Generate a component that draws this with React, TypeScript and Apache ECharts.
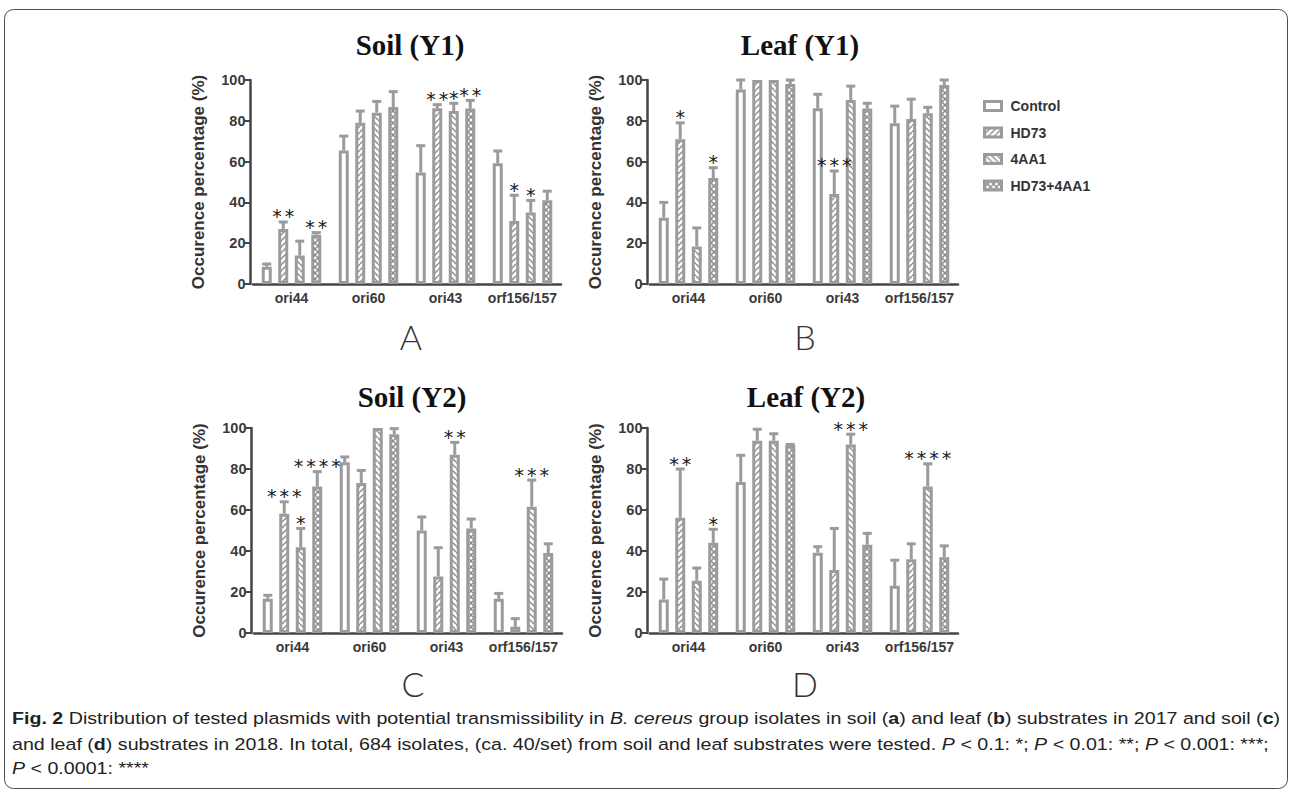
import React, { useEffect, useRef } from "react";
import * as echarts from "echarts";

// ---------- data ----------
const categories = ["ori44", "ori60", "ori43", "orf156/157"];
const seriesNames = ["Control", "HD73", "4AA1", "HD73+4AA1"];
const yTicks = [0, 20, 40, 60, 80, 100];

// rows: Control, HD73, 4AA1, HD73+4AA1 ; columns: categories
const soilY1Mean = [
  [8.5, 65.4, 54.7, 59.2],
  [27, 79, 86.1, 30.9],
  [14, 84, 84.8, 35],
  [24.2, 86.8, 86, 41],
];
const soilY1Sd = [
  [1.3, 7.1, 13.1, 6.0],
  [3.4, 5.8, 1.8, 12.6],
  [7, 5.5, 3.8, 6],
  [1, 7.5, 4, 4.5],
];
const soilY1Stars = [
  ["", "", "", ""],
  ["**", "", "**", "*"],
  ["", "", "*", "*"],
  ["**", "", "**", ""],
];

const leafY1Mean = [
  [32.5, 95.4, 86.1, 78.8],
  [71, 100, 44.1, 80.9],
  [18.4, 100, 90.2, 83.7],
  [52, 98, 86, 97.5],
];
const leafY1Sd = [
  [7.5, 4.6, 6.9, 8.4],
  [8, 0, 11.3, 9.7],
  [9.1, 0, 6.8, 2.9],
  [5, 2, 2.6, 2.5],
];
const leafY1Stars = [
  ["", "", "", ""],
  ["*", "", "***", ""],
  ["", "", "", ""],
  ["*", "", "", ""],
];

const soilY2Mean = [
  [16.7, 83.3, 50, 16.7],
  [58.2, 73.2, 27.6, 3],
  [41.8, 100, 87, 61.6],
  [71.5, 97, 51, 39],
];
const soilY2Sd = [
  [1.7, 2.6, 6.6, 2.6],
  [5.8, 6.1, 14, 4],
  [9.2, 0, 6, 13],
  [7.2, 2.7, 4.6, 4.5],
];
const soilY2Stars = [
  ["", "", "", ""],
  ["***", "", "", ""],
  ["*", "", "**", "***"],
  ["****", "", "", ""],
];

const leafY2Mean = [
  [16.4, 73.7, 39.2, 23],
  [56.2, 93.8, 30.7, 36],
  [25.5, 93.8, 92, 71.5],
  [44, 91.6, 43, 37],
];
const leafY2Sd = [
  [9.9, 13, 2.9, 12.5],
  [23.8, 5.6, 20.3, 7.5],
  [6.2, 3.4, 5, 11],
  [6.6, 0.4, 5.6, 5.5],
];
const leafY2Stars = [
  ["", "", "", ""],
  ["**", "", "", ""],
  ["", "", "***", "****"],
  ["*", "", "", ""],
];

const panelTitles = ["Soil (Y1)", "Leaf (Y1)", "Soil (Y2)", "Leaf (Y2)"];
const panelLetters = ["A", "B", "C", "D"];
const yAxisName = "Occurence percentage (%)";

const captionLines = [
  "{b|Fig. 2} Distribution of tested plasmids with potential transmissibility in {i|B. cereus} group isolates in soil ({b|a}) and leaf ({b|b}) substrates in 2017 and soil ({b|c})",
  "and leaf ({b|d}) substrates in 2018. In total, 684 isolates, (ca. 40/set) from soil and leaf substrates were tested. {i|P} < 0.1: *; {i|P} < 0.01: **; {i|P} < 0.001: ***;",
  "{i|P} < 0.0001: ****",
];

// ---------- layout / style ----------
const panelMeans = [soilY1Mean, leafY1Mean, soilY2Mean, leafY2Mean];
const panelSds = [soilY1Sd, leafY1Sd, soilY2Sd, leafY2Sd];
const panelStars = [soilY1Stars, leafY1Stars, soilY2Stars, leafY2Stars];

const grids = [
  { left: 253, top: 80, width: 308, height: 204 },
  { left: 650, top: 80, width: 308, height: 204 },
  { left: 254, top: 428, width: 308, height: 205 },
  { left: 650, top: 428, width: 308, height: 205 },
];
const titlePos = [
  [410, 45],
  [800, 45],
  [412, 397],
  [806, 397],
];
const letterPos = [
  [411, 336],
  [805, 336],
  [413, 683],
  [805, 683],
];

const GRAY = "#9b9b9b";
const HATCH = "#8a8a8a";
const AXIS = "#454545";
const BAR_W = 10;
const BAR_GAP = 0.65;
const STEP = BAR_W * (1 + BAR_GAP);
const STAR_STEP = 12.5;
const SANS = "Liberation Sans";

function makePattern(kind: number): any {
  if (kind === 0) return "#ffffff";
  const size = 6;
  const c = document.createElement("canvas");
  c.width = size;
  c.height = size;
  const ctx = c.getContext("2d")!;
  ctx.fillStyle = "#ffffff";
  ctx.fillRect(0, 0, size, size);
  ctx.strokeStyle = HATCH;
  ctx.lineWidth = 1.4;
  const fwd = () => {
    for (const o of [-size, 0, size]) {
      ctx.beginPath();
      ctx.moveTo(o, size);
      ctx.lineTo(o + size, 0);
      ctx.stroke();
    }
  };
  const back = () => {
    for (const o of [-size, 0, size]) {
      ctx.beginPath();
      ctx.moveTo(o, 0);
      ctx.lineTo(o + size, size);
      ctx.stroke();
    }
  };
  if (kind === 1) fwd();
  if (kind === 2) back();
  if (kind === 3) {
    fwd();
    back();
  }
  return { image: c.toDataURL(), repeat: "repeat", imageWidth: size, imageHeight: size };
}

function measureRich(line: string, size: number, family: string) {
  const ctx = document.createElement("canvas").getContext("2d")!;
  const re = /\{(\w)\|([^}]*)\}/g;
  let w = 0;
  let last = 0;
  let m: RegExpExecArray | null;
  const fam = `"${family}"`;
  while ((m = re.exec(line))) {
    if (m.index > last) {
      ctx.font = `${size}px ${fam}`;
      w += ctx.measureText(line.slice(last, m.index)).width;
    }
    ctx.font = m[1] === "b" ? `bold ${size}px ${fam}` : `italic ${size}px ${fam}`;
    w += ctx.measureText(m[2]).width;
    last = re.lastIndex;
  }
  if (last < line.length) {
    ctx.font = `${size}px ${fam}`;
    w += ctx.measureText(line.slice(last)).width;
  }
  return w;
}

function buildOption() {
  const fills = [0, 1, 2, 3].map(makePattern);
  const series: any[] = [];
  for (let p = 0; p < 4; p++) {
    for (let s = 0; s < 4; s++) {
      series.push({
        type: "bar",
        name: seriesNames[s],
        xAxisIndex: p,
        yAxisIndex: p,
        data: panelMeans[p][s],
        barWidth: BAR_W,
        barGap: `${BAR_GAP * 100}%`,
        itemStyle: {
          color: fills[s],
          borderColor: GRAY,
          borderWidth: 3,
        },
        emphasis: { disabled: true },
        silent: true,
      });
    }
    const errData: number[][] = [];
    for (let s = 0; s < 4; s++) {
      for (let c = 0; c < 4; c++) {
        const m = panelMeans[p][s][c];
        errData.push([c, m + panelSds[p][s][c], s, m]);
      }
    }
    const stars = panelStars[p];
    series.push({
      type: "custom",
      xAxisIndex: p,
      yAxisIndex: p,
      silent: true,
      z: 5,
      encode: { x: 0, y: 1 },
      data: errData,
      renderItem: (params: any, api: any) => {
        const c = api.value(0);
        const top = api.value(1);
        const s = api.value(2);
        const mean = api.value(3);
        const pm = api.coord([c, mean]);
        const pt = api.coord([c, top]);
        const x = pm[0] + (s - 1.5) * STEP;
        const children: any[] = [];
        if (top > mean + 0.01) {
          children.push({
            type: "line",
            shape: { x1: x, y1: pm[1], x2: x, y2: pt[1] },
            style: { stroke: GRAY, lineWidth: 3 },
          });
          children.push({
            type: "line",
            shape: { x1: x - 4.5, y1: pt[1], x2: x + 4.5, y2: pt[1] },
            style: { stroke: GRAY, lineWidth: 3 },
          });
        }
        const star = stars[s][c];
        const n = star.length;
        for (let k = 0; k < n; k++) {
          children.push({
            type: "text",
            style: {
              text: "*",
              x: x + (k - (n - 1) / 2) * STAR_STEP,
              y: pt[1] + 4,
              align: "center",
              verticalAlign: "bottom",
              fontFamily: "DejaVu Sans",
              fontSize: 19,
              fill: "#1a1a1a",
            },
          });
        }
        return { type: "group", children };
      },
    });
  }

  const graphic: any[] = [
    {
      type: "rect",
      shape: { x: 4.5, y: 9.5, width: 1283, height: 779, r: 9 },
      style: { fill: "none", stroke: "#4d4d4d", lineWidth: 1 },
      silent: true,
    },
  ];
  for (let p = 0; p < 4; p++) {
    graphic.push({
      type: "text",
      x: titlePos[p][0],
      y: titlePos[p][1],
      style: {
        text: panelTitles[p],
        align: "center",
        verticalAlign: "middle",
        fontFamily: "Liberation Serif",
        fontWeight: "bold",
        fontSize: 29,
        fill: "#111",
      },
    });
    graphic.push({
      type: "text",
      x: letterPos[p][0],
      y: letterPos[p][1],
      style: {
        text: panelLetters[p],
        align: "center",
        verticalAlign: "middle",
        fontFamily: "Lato",
        fontWeight: 300,
        fontSize: 34,
        fill: "#333",
      },
    });
  }

  const capSize = 17;
  const w1 = measureRich(captionLines[0], capSize, SANS);
  const capScale = w1 > 0 ? 1268 / w1 : 0.85;
  const capY = [718, 744, 768];
  const rich = {
    b: { fontFamily: SANS, fontSize: capSize, fontWeight: "bold", fill: "#222" },
    i: { fontFamily: SANS, fontSize: capSize, fontStyle: "italic", fill: "#222" },
  };
  captionLines.forEach((line, k) => {
    graphic.push({
      type: "text",
      x: 12,
      y: capY[k],
      scaleX: capScale,
      style: {
        text: line,
        rich,
        fontFamily: SANS,
        fontSize: capSize,
        fill: "#222",
        align: "left",
        verticalAlign: "middle",
      },
    });
  });

  return {
    animation: false,
    backgroundColor: "#ffffff",
    grid: grids.map((g) => ({ ...g, containLabel: false })),
    legend: {
      data: seriesNames,
      orient: "vertical",
      left: 978,
      top: 94,
      itemWidth: 17,
      itemHeight: 9,
      itemGap: 12.5,
      icon: "rect",
      selectedMode: false,
      itemStyle: { borderColor: GRAY, borderWidth: 3 },
      textStyle: { fontFamily: SANS, fontWeight: "bold", fontSize: 14, color: "#333", padding: [0, 0, 0, 4] },
    },
    xAxis: grids.map((_, p) => ({
      type: "category",
      gridIndex: p,
      data: categories,
      axisLine: { lineStyle: { color: AXIS, width: 2.5 } },
      axisTick: { alignWithLabel: true, length: 5, lineStyle: { color: AXIS, width: 2 } },
      axisLabel: { interval: 0, fontFamily: SANS, fontWeight: "bold", fontSize: 14, color: "#3a3a3a", margin: 7 },
      splitLine: { show: false },
    })),
    yAxis: grids.map((_, p) => ({
      type: "value",
      gridIndex: p,
      min: 0,
      max: 100,
      interval: 20,
      offset: 2.5,
      name: yAxisName,
      nameLocation: "middle",
      nameGap: 44,
      nameTextStyle: { fontFamily: SANS, fontWeight: "bold", fontSize: 17, color: "#333" },
      axisLine: { show: true, lineStyle: { color: AXIS, width: 2.5 } },
      axisTick: { show: true, length: 6, lineStyle: { color: AXIS, width: 2 } },
      axisLabel: {
        fontFamily: SANS,
        fontWeight: "bold",
        fontSize: 14.5,
        color: "#3a3a3a",
        margin: 5,
        formatter: (v: number) => (yTicks.indexOf(v) >= 0 ? String(v) : ""),
      },
      splitLine: { show: false },
    })),
    series,
    graphic,
  };
}

export default function App() {
  const ref = useRef<HTMLDivElement>(null);
  useEffect(() => {
    if (!ref.current) return;
    const chart = echarts.init(ref.current, undefined, { renderer: "svg" });
    chart.setOption(buildOption() as any);
    return () => chart.dispose();
  }, []);
  return (
    <div
      ref={ref}
      style={{ position: "fixed", left: 0, top: 0, width: 1292, height: 793, background: "#fff" }}
    />
  );
}
